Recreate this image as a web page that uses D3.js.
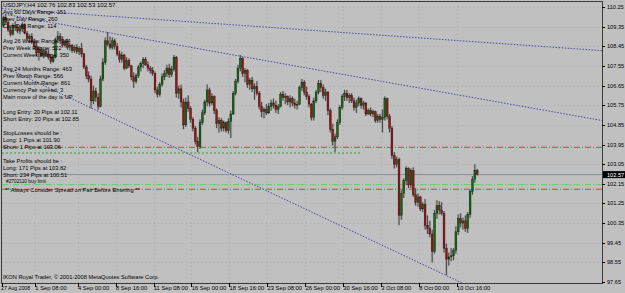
<!DOCTYPE html>
<html><head><meta charset="utf-8">
<script src="https://cdn.jsdelivr.net/npm/d3@7"></script>
<style>html,body{margin:0;padding:0;background:#c0c0c0;}svg{display:block;}text{font-family:"Liberation Sans",Arial,sans-serif;}</style>
</head><body>
<svg id="c" width="625" height="293"></svg>
<script>
const open = [109.40,109.75,109.55,109.20,109.00,109.40,109.30,109.15,109.25,109.45,109.05,108.80,108.90,108.65,108.45,108.15,108.30,108.05,108.20,108.10,
107.95,107.75,107.95,108.75,108.90,108.70,108.50,108.65,108.40,108.50,108.25,108.40,108.20,108.35,108.10,107.50,107.10,106.95,105.95,106.40,
106.10,105.70,106.95,107.70,108.70,108.55,108.40,108.70,108.45,108.10,107.85,108.05,107.45,107.80,107.55,107.05,106.85,107.10,107.50,107.65,
107.85,107.60,107.45,107.35,107.20,106.45,106.25,106.70,107.05,107.20,107.45,107.15,107.40,107.95,106.30,106.50,105.90,104.85,105.90,105.60,
105.10,104.70,104.10,103.85,104.95,105.40,105.90,106.45,105.85,106.15,105.50,104.90,105.05,104.70,104.95,104.60,105.00,105.35,106.30,106.85,
107.45,107.90,107.20,107.35,106.70,106.90,106.50,106.60,106.30,105.70,105.45,105.55,105.40,105.70,105.85,105.75,105.55,105.70,106.25,106.10,
106.15,105.90,106.05,105.85,105.75,105.80,106.55,106.80,106.35,106.15,105.80,105.20,105.95,106.35,106.75,106.55,106.20,106.35,105.50,104.65,
104.10,104.30,104.95,105.65,106.15,106.30,106.10,106.20,105.95,105.65,105.85,106.05,105.75,105.85,105.35,105.50,105.35,105.45,105.05,105.25,
105.10,105.20,106.05,105.25,104.70,103.45,103.05,103.25,100.70,101.70,102.30,102.85,102.10,102.75,101.65,101.30,101.55,101.00,101.20,100.25,
100.10,99.85,99.05,100.80,101.15,100.95,100.80,99.20,98.70,98.80,98.85,99.10,99.95,100.55,100.35,100.45,100.10,100.75,101.80,102.35,102.76];
const high = [109.85,109.90,109.70,109.35,109.50,109.60,109.45,109.40,109.55,109.50,109.15,109.00,109.05,108.80,108.70,108.45,108.40,108.30,108.35,108.30,
108.10,108.05,108.85,109.15,109.05,108.90,108.75,108.80,108.60,108.55,108.50,108.55,108.45,108.60,108.15,107.60,107.30,107.10,106.65,106.55,
106.30,107.10,107.90,108.85,109.10,108.90,108.85,108.80,108.60,108.25,108.20,108.10,107.95,107.90,107.60,107.25,107.20,107.60,107.75,107.95,
107.95,107.75,107.55,107.50,107.30,106.60,106.80,107.20,107.35,107.60,107.65,107.55,108.05,108.00,106.65,106.70,106.05,106.10,106.20,105.70,
105.20,104.80,104.30,105.10,105.55,106.00,106.70,106.55,106.30,106.20,105.60,105.20,105.15,105.05,105.00,105.15,105.50,106.40,106.95,107.60,
108.05,107.95,107.45,107.40,107.00,107.05,106.75,106.85,106.40,105.90,105.65,105.80,105.85,106.00,106.05,105.95,105.80,106.35,106.40,106.30,
106.20,106.20,106.15,106.05,105.95,106.65,106.95,106.90,106.60,106.25,105.85,106.10,106.45,106.90,106.90,106.70,106.50,106.40,105.60,104.90,
104.45,105.10,105.75,106.25,106.45,106.45,106.30,106.30,106.10,106.00,106.15,106.10,105.95,105.90,105.60,105.65,105.55,105.50,105.35,105.35,
105.55,106.15,106.10,105.35,104.80,103.60,103.40,103.35,101.85,102.40,102.95,102.90,102.85,102.90,101.95,101.70,101.60,101.30,101.45,100.70,
100.45,100.05,100.95,101.40,101.35,101.30,100.90,99.40,99.00,99.20,99.20,100.20,100.75,100.80,100.60,100.70,100.85,101.90,102.50,103.05,102.83];
const low = [109.30,109.45,109.10,108.90,108.95,109.15,109.05,109.00,109.10,109.00,108.70,108.60,108.55,108.30,108.00,107.80,107.95,107.90,108.00,107.85,
107.65,107.70,107.90,108.60,108.55,108.40,108.40,108.30,108.25,108.15,108.15,108.10,108.05,107.95,107.40,106.95,106.80,105.60,105.80,105.90,
105.55,105.65,106.85,107.60,108.45,108.30,108.30,108.30,108.00,107.70,107.70,107.35,107.40,107.45,106.90,106.55,106.75,107.00,107.30,107.45,
107.55,107.30,107.20,107.10,106.30,106.10,106.15,106.60,106.90,107.05,107.00,107.05,107.30,106.10,106.05,105.65,104.65,104.75,105.45,104.95,
104.55,103.95,103.60,103.75,104.85,105.30,105.70,105.70,105.75,105.35,104.70,104.50,104.55,104.55,104.50,104.45,104.25,105.30,106.20,106.75,
107.30,107.05,106.80,106.55,106.45,106.35,106.00,106.20,105.55,105.20,105.15,105.30,105.35,105.50,105.60,105.40,105.35,105.65,105.95,105.80,
105.75,105.65,105.70,105.60,105.55,105.75,106.40,106.20,106.00,105.65,105.05,105.05,105.85,106.25,106.35,106.05,105.95,105.30,104.50,103.90,
103.60,104.20,104.85,105.55,105.95,105.95,105.85,105.85,105.50,105.40,105.70,105.60,105.55,105.25,105.30,105.25,105.20,104.95,104.95,104.95,
104.50,105.05,105.10,104.50,103.30,102.85,102.90,100.25,100.50,101.50,102.10,101.95,101.95,101.55,101.15,101.10,100.90,100.85,100.05,99.85,
99.70,98.55,98.95,100.55,100.75,100.70,99.00,97.97,98.40,98.60,98.65,98.95,99.80,100.15,100.05,99.95,99.90,100.60,101.65,102.20,102.53];
const close = [109.75,109.55,109.20,109.00,109.40,109.30,109.15,109.25,109.45,109.05,108.80,108.90,108.65,108.45,108.15,108.30,108.05,108.20,108.10,107.95,
107.75,107.95,108.75,108.90,108.70,108.50,108.65,108.40,108.50,108.25,108.40,108.20,108.35,108.10,107.50,107.10,106.95,105.95,106.40,106.10,
105.70,106.95,107.70,108.70,108.55,108.40,108.70,108.45,108.10,107.85,108.05,107.45,107.80,107.55,107.05,106.85,107.10,107.50,107.65,107.85,
107.60,107.45,107.35,107.20,106.45,106.25,106.70,107.05,107.20,107.45,107.15,107.40,107.95,106.30,106.50,105.90,104.85,105.90,105.60,105.10,
104.70,104.10,103.85,104.95,105.40,105.90,106.45,105.85,106.15,105.50,104.90,105.05,104.70,104.95,104.60,105.00,105.35,106.30,106.85,107.45,
107.90,107.20,107.35,106.70,106.90,106.50,106.60,106.30,105.70,105.45,105.55,105.40,105.70,105.85,105.75,105.55,105.70,106.25,106.10,106.15,
105.90,106.05,105.85,105.75,105.80,106.55,106.80,106.35,106.15,105.80,105.20,105.95,106.35,106.75,106.55,106.20,106.35,105.50,104.65,104.10,
104.30,104.95,105.65,106.15,106.30,106.10,106.20,105.95,105.65,105.85,106.05,105.75,105.85,105.35,105.50,105.35,105.45,105.05,105.25,105.10,
105.20,106.05,105.25,104.70,103.45,103.05,103.25,100.70,101.70,102.30,102.85,102.10,102.75,101.65,101.30,101.55,101.00,101.20,100.25,100.10,
99.85,99.05,100.80,101.15,100.95,100.80,99.20,98.70,98.80,98.85,99.10,99.95,100.55,100.35,100.45,100.10,100.75,101.80,102.35,102.76,102.57];

const priceTicks = [110.25,109.35,108.45,107.55,106.65,105.75,104.85,103.95,103.05,102.15,101.25,100.35,99.45,98.55,97.65];
const timeTickBars = [0,14,32,48,64,80,96,112,128,144,160,176,192];
const timeTickLabels = ["27 Aug 2008","1 Sep 08:00","4 Sep 00:00","8 Sep 16:00","11 Sep 08:00","16 Sep 00:00","18 Sep 16:00","23 Sep 08:00","26 Sep 00:00","30 Sep 16:00","3 Oct 08:00","8 Oct 00:00","10 Oct 16:00"];
const lastPrice = 102.57;

// trendlines: [startBar, startPrice, endBar, endPrice]
const trendStartBar = [0, 0, 0];
const trendStartPrice = [110.17, 109.93, 107.52];
const trendEndBar = [250, 250, 190];
const trendEndPrice = [108.27, 105.10, 97.79];

// horizontal levels
const tpLevel = 103.82, slLevel = 101.90, entryLevel = 102.11, markLevel = 103.56, markEndBar = 151;

const infoLines = ["USDJPY,H4  102.76 102.83 102.53 102.57","Avg 60 Days Range: 151","Prev Day Range: 260","Curr Day Range: 114","",
"Avg 26 Weeks Range: 344","Prev Week Range: 522","Current Week Range: 350","",
"Avg 24 Months Range: 463","Prev Month Range: 566","Current Month Range: 861","Currency Pair spread: 3","Main move of the day is UP","",
"Long Entry: 20 Pips at 102.11","Short Entry: 20 Pips at 102.85","",
"StopLosses should be :","Long:  1 Pips at 101.90","Short: 1 Pips at 103.06","",
"Take Profits should be :","Long:  171 Pips at 103.82","Short: 234 Pips at 100.51","",
"** Always Consider Spread on Pair Before Entering **"];
const orderLabel = "#2702110 buy limit";
const copyright = "IKON Royal Trader, \u00a9 2001-2008 MetaQuotes Software Corp.";

const svg = d3.select("#c");
const L = 2, R = 602, T = 2, B = 283;
const x = d3.scaleLinear().domain([0, 200]).range([3.4, 477.2]);
const y = d3.scaleLinear().domain([97.65, 110.25]).range([282, 7]);

svg.append("rect").attr("width",625).attr("height",293).attr("fill","#c0c0c0");
svg.append("defs").append("clipPath").attr("id","pc").append("rect").attr("x",L).attr("y",T).attr("width",R-L).attr("height",B-T);

const plot = svg.append("g").attr("clip-path","url(#pc)");

// grid
plot.selectAll(".gh").data(priceTicks).join("line").attr("x1",L).attr("x2",R)
  .attr("y1",d=>Math.round(y(d))+0.5).attr("y2",d=>Math.round(y(d))+0.5)
  .attr("stroke","#acacac").attr("stroke-dasharray","1,3").attr("stroke-width",1);
plot.selectAll(".gv").data(timeTickBars).join("line").attr("y1",T).attr("y2",B)
  .attr("x1",d=>Math.round(x(d)-1.5)+0.5).attr("x2",d=>Math.round(x(d)-1.5)+0.5)
  .attr("stroke","#acacac").attr("stroke-dasharray","1,3").attr("stroke-width",1);

// horizontal levels
function hline(p, color, dash, x2){
  plot.append("line").attr("x1",L).attr("x2",x2 ?? R).attr("y1",y(p)).attr("y2",y(p))
    .attr("stroke",color).attr("stroke-width",1).attr("stroke-dasharray",dash);
}
hline(markLevel, "#3a9a3a", "2,2", x(markEndBar));
hline(tpLevel, "#e03a3a", "6,2,1,2");
hline(slLevel, "#e03a3a", "6,2,1,2");
hline(entryLevel, "#5ad25a", "6,2,1,2");
hline(lastPrice, "#7e8ea6", null);

// trendlines (extend as rays across plot)
const tl = plot.append("g");
trendStartBar.forEach((b,i)=>{
  const x1 = x(b), y1 = y(trendStartPrice[i]), x2 = x(trendEndBar[i]), y2 = y(trendEndPrice[i]);
  const s = (y2-y1)/(x2-x1);
  tl.append("line").attr("x1",L).attr("y1",y1+(L-x1)*s).attr("x2",R).attr("y2",y1+(R-x1)*s)
    .attr("stroke","#4848a8").attr("stroke-width",1).attr("stroke-dasharray","1.5,1.5");
});

// candles
const idx = d3.range(close.length);
const cg = plot.append("g");
cg.selectAll(".sh").data(idx).join("rect")
  .attr("x",i=>x(i)-1.3).attr("width",2.6)
  .attr("y",i=>y(high[i])).attr("height",i=>Math.max(1,y(low[i])-y(high[i])))
  .attr("fill","#8e8e8e").attr("opacity",0.35);
cg.selectAll(".wk").data(idx).join("line")
  .attr("x1",i=>x(i)).attr("x2",i=>x(i))
  .attr("y1",i=>y(high[i])).attr("y2",i=>y(low[i]))
  .attr("stroke","#2a2a2a").attr("stroke-width",0.8);
cg.selectAll(".bd").data(idx).join("rect")
  .attr("x",i=>x(i)-0.9).attr("width",1.8)
  .attr("y",i=>y(Math.max(open[i],close[i])))
  .attr("height",i=>Math.max(0.8,Math.abs(y(open[i])-y(close[i]))))
  .attr("fill",i=>close[i]>=open[i]?"#0c6e0c":"#a81010")
  .attr("stroke","#1a1a1a").attr("stroke-width",0.4);

// frame
svg.append("rect").attr("x",L-0.5).attr("y",T-0.5).attr("width",R-L+1).attr("height",B-T+1)
  .attr("fill","none").attr("stroke","#3c3c3c").attr("stroke-width",1);

// price axis
const pa = svg.append("g");
pa.selectAll("line").data(priceTicks).join("line").attr("x1",R).attr("x2",R+3)
  .attr("y1",d=>Math.round(y(d))+0.5).attr("y2",d=>Math.round(y(d))+0.5).attr("stroke","#000");
pa.selectAll("text").data(priceTicks).join("text").attr("x",R+5).attr("y",d=>y(d)+2)
  .attr("font-size",5.6).attr("fill","#000").text(d=>d.toFixed(2));
svg.append("rect").attr("x",R+1).attr("y",y(lastPrice)-3.5).attr("width",22).attr("height",7).attr("fill","#000");
svg.append("text").attr("x",R+5).attr("y",y(lastPrice)+2).attr("font-size",5.6).attr("fill","#fff").text(lastPrice.toFixed(2));

// time axis
const ta = svg.append("g");
ta.selectAll("line").data(timeTickBars).join("line")
  .attr("x1",d=>Math.round(x(d)-1.5)+0.5).attr("x2",d=>Math.round(x(d)-1.5)+0.5)
  .attr("y1",B).attr("y2",B+4).attr("stroke","#000");
ta.selectAll("text").data(timeTickBars).join("text")
  .attr("x",(d,i)=> i===0 ? 1 : x(d)-1.2).attr("y",290).attr("font-size",(d,i)=> i===0 ? 5.2 : 5.8).attr("fill","#000")
  .text((d,i)=>timeTickLabels[i]);

// info text
const it = svg.append("g");
it.selectAll("text").data(infoLines).join("text")
  .attr("x",(d,i)=> i===infoLines.length-1 ? 5 : 3)
  .attr("y",(d,i)=>7+i*7.1).attr("font-size",(d,i)=> i===0 ? 6 : 5.7).attr("fill","#000").text(d=>d);
svg.append("text").attr("x",6).attr("y",y(entryLevel)-1.8).attr("font-size",4.8).attr("fill","#000").text(orderLabel);
svg.append("text").attr("x",3).attr("y",279).attr("font-size",5.7).attr("fill","#000").text(copyright);
</script>
</body></html>
